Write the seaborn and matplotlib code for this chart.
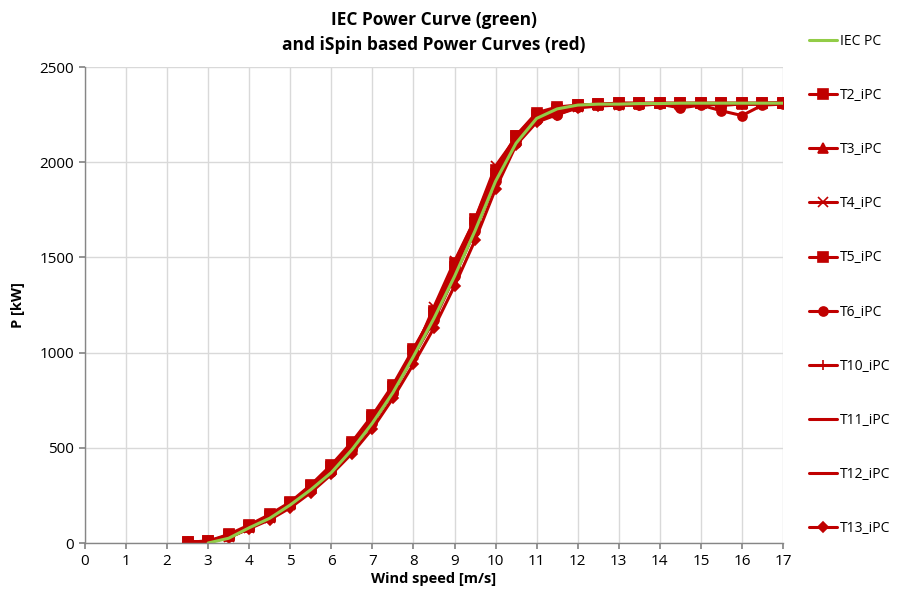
import numpy as np
import pandas as pd
import matplotlib
matplotlib.use("Agg")
import matplotlib.pyplot as plt
import seaborn as sns
from matplotlib.lines import Line2D

sns.set_theme(style="white")
plt.rcParams['font.family'] = ['Open Sans', 'DejaVu Sans']

wind = [2.5, 3, 3.5, 4, 4.5, 5, 5.5, 6, 6.5, 7, 7.5, 8, 8.5, 9, 9.5, 10, 10.5, 11,
        11.5, 12, 12.5, 13, 13.5, 14, 14.5, 15, 15.5, 16, 16.5, 17]

iec_wind = wind[1:]
iec_pc = [0, 25, 80, 130, 200, 280, 370, 490, 630, 790, 980, 1180, 1400, 1640, 1900, 2100,
          2230, 2280, 2300, 2305, 2305, 2308, 2308, 2310, 2310, 2310, 2310, 2310, 2310]

t2 = [5, 10, 40, 90, 140, 210, 300, 400, 520, 660, 820, 1010, 1220, 1470, 1700, 1960, 2140, 2250,
      2280, 2300, 2305, 2310, 2310, 2310, 2310, 2310, 2310, 2310, 2310, 2310]
t3 = [5, 8, 35, 85, 135, 205, 290, 390, 510, 650, 810, 1000, 1210, 1450, 1690, 1940, 2120, 2240,
      2270, 2295, 2300, 2305, 2305, 2310, 2305, 2310, 2300, 2305, 2310, 2310]
t4 = [0, 5, 30, 80, 130, 200, 285, 385, 500, 640, 800, 990, 1240, 1480, 1700, 1980, 2130, 2230,
      2260, 2290, 2300, 2300, 2305, 2310, 2300, 2310, 2300, 2310, 2305, 2310]
t5 = [5, 10, 45, 95, 150, 215, 305, 410, 530, 670, 830, 1020, 1210, 1450, 1680, 1940, 2140, 2260,
      2290, 2300, 2305, 2310, 2310, 2310, 2310, 2310, 2310, 2310, 2310, 2310]
t6 = [3, 8, 35, 85, 135, 200, 280, 375, 490, 630, 790, 980, 1170, 1400, 1640, 1900, 2100, 2220,
      2250, 2290, 2300, 2300, 2300, 2305, 2285, 2300, 2270, 2245, 2300, 2305]
t10 = [2, 6, 30, 80, 130, 195, 280, 380, 500, 640, 800, 995, 1200, 1440, 1680, 1930, 2110, 2230,
       2270, 2295, 2300, 2305, 2305, 2308, 2305, 2308, 2305, 2305, 2308, 2310]
t11 = [2, 6, 32, 82, 132, 198, 285, 385, 505, 645, 805, 1000, 1205, 1445, 1685, 1935, 2115, 2235,
       2275, 2298, 2302, 2305, 2306, 2308, 2306, 2308, 2306, 2306, 2308, 2310]
t12 = [2, 5, 28, 78, 128, 195, 282, 382, 502, 642, 802, 998, 1200, 1440, 1680, 1930, 2110, 2230,
       2270, 2295, 2300, 2305, 2305, 2308, 2305, 2308, 2305, 2306, 2308, 2310]
t13 = [2, 5, 28, 75, 122, 185, 265, 360, 470, 600, 760, 940, 1130, 1350, 1590, 1860, 2090, 2210,
       2250, 2285, 2295, 2300, 2300, 2305, 2300, 2305, 2300, 2305, 2305, 2310]

series = [("T2_iPC", t2, "s"), ("T3_iPC", t3, "^"), ("T4_iPC", t4, "x"), ("T5_iPC", t5, "s"),
          ("T6_iPC", t6, "o"), ("T10_iPC", t10, "+"), ("T11_iPC", t11, None),
          ("T12_iPC", t12, None), ("T13_iPC", t13, "D")]

red = "#C00000"
green = "#92CC47"

fig = plt.figure(figsize=(9, 6.01), dpi=100)
ax = fig.add_axes([0.0944, 0.0965, 0.7756, 0.792])

handles = []
for name, vals, mk in series:
    df = pd.DataFrame({"wind": wind, "P": vals})
    ms = 5 if mk == "D" else 6.5
    sns.lineplot(data=df, x="wind", y="P", ax=ax, color=red, lw=2.2,
                 marker=mk if mk else None, markersize=ms, markeredgewidth=1.2,
                 markeredgecolor=red, markerfacecolor=red, legend=False)
    handles.append(Line2D([0], [0], color=red, lw=2.2, marker=mk if mk else None,
                          markersize=ms, markerfacecolor=red, markeredgecolor=red,
                          markeredgewidth=1.2, label=name))

dfi = pd.DataFrame({"wind": iec_wind, "P": iec_pc})
sns.lineplot(data=dfi, x="wind", y="P", ax=ax, color=green, lw=2.2, legend=False)
iec_handle = Line2D([0], [0], color=green, lw=2.2, label="IEC PC")

ax.set_xlim(0, 17)
ax.set_ylim(0, 2500)
ax.set_xticks(range(0, 18))
ax.set_yticks(range(0, 2501, 500))
ax.grid(True, color="#D9D9D9", lw=1)
for s in ["top", "right"]:
    ax.spines[s].set_visible(False)
for s in ["left", "bottom"]:
    ax.spines[s].set_color("#868686")
    ax.spines[s].set_linewidth(1)
ax.tick_params(axis="both", which="both", direction="out", length=4, color="#868686",
               labelsize=11, pad=4, left=True, bottom=True, labelcolor="black")
ax.set_xlabel("Wind speed [m/s]", fontsize=10.5, fontweight="bold", labelpad=2, color="black")
ax.set_ylabel("P [kW]", fontsize=10.5, fontweight="bold", labelpad=10, color="black")
ax.set_title("IEC Power Curve (green)\nand iSpin based Power Curves (red)",
             fontsize=12.5, fontweight="bold", pad=12, linespacing=1.5, color="black")

leg = fig.legend(handles=[iec_handle] + handles, loc="upper left",
                 bbox_to_anchor=(0.893, 0.953), frameon=False, fontsize=10,
                 handlelength=2.0, handletextpad=0.2, labelspacing=2.82,
                 borderaxespad=0)
for t in leg.get_texts():
    t.set_color("black")

fig.savefig("out.png", dpi=100)
